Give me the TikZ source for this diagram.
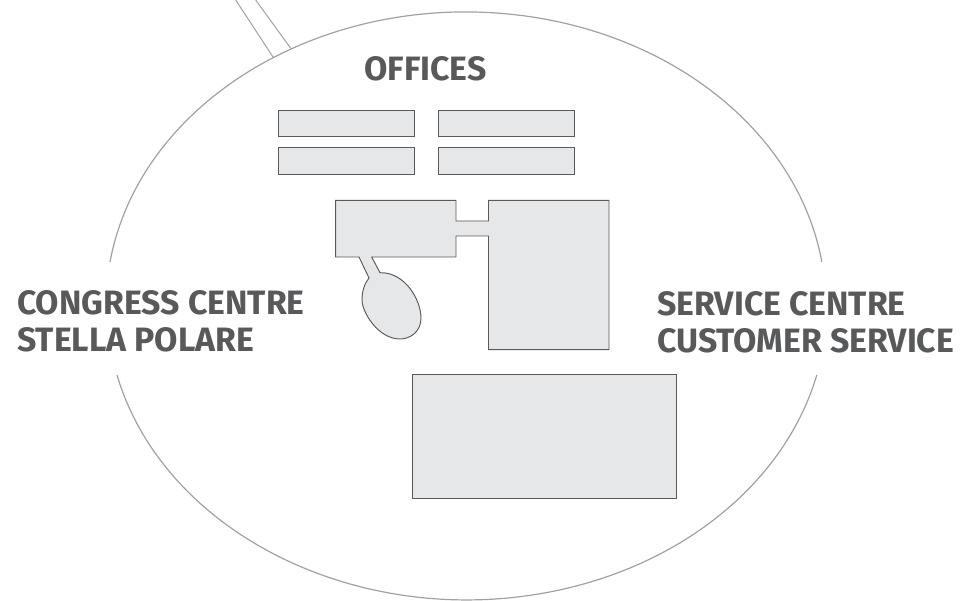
\documentclass[tikz,border=0pt]{standalone}
\usepackage{fontspec}
\setmainfont{Fira Sans}
\usepackage{xcolor}
\definecolor{roomfill}{HTML}{E6E7E8}
\definecolor{darkline}{HTML}{58595B}
\definecolor{ringline}{HTML}{A0A1A3}
\tikzset{
  room/.style={draw=darkline, fill=roomfill, line width=0.95pt, line join=miter},
  ring/.style={draw=ringline, line width=1.2pt},
  area/.style={anchor=base west, inner sep=0pt, text=darkline, font=\fontsize{33.8}{33.8}\selectfont\bfseries}
}
\begin{document}
\begin{tikzpicture}[x=1pt, y=1pt]
\useasboundingbox (0,0) rectangle (979,600);
% site outline
\draw[ring] (110,338) arc[start angle=171.4, end angle=8.6, x radius=360, y radius=294];
\draw[ring] (117,225) arc[start angle=193.6, end angle=346.4, x radius=360, y radius=294];
% access road
\coordinate (roadA) at (235.7,600);
\coordinate (roadB) at (273,543);
\coordinate (roadC) at (255.7,600);
\coordinate (roadD) at (290.7,551.7);
\draw[draw=ringline, line width=1pt] (roadA) -- (roadB);
\draw[draw=ringline, line width=1pt] (roadC) -- (roadD);
% offices
\foreach \xa/\xb in {278/414.3, 438/574} {
  \draw[room] (\xa,490) rectangle (\xb,463.3);
  \draw[room] (\xa,452.7) rectangle (\xb,426);
}
% main building
\draw[room] (335.7,399.7) -- (456,399.7) -- (456,379) -- (488.5,379) -- (488.5,399.7)
  -- (609,399.7) -- (609,250.3) -- (488.5,250.3) -- (488.5,364) -- (456,364) -- (456,343)
  -- (371.7,343) -- (380,327.3)
  .. controls (405,328) and (421,300) .. (421,282)
  .. controls (421,268) and (410,261) .. (400,261)
  .. controls (378,261) and (362,288) .. (362,300)
  .. controls (362,310) and (365,317) .. (369,322)
  -- (359,343) -- (335.7,343) -- cycle;
\draw[room] (412,226) rectangle (676,102);
% labels
\node[area] (offices) at (364,519) {OFFICES};
\node[area] (congress) at (17,285.5) {CONGRESS CENTRE};
\node[area] (stella) at (17,248.5) {STELLA POLARE};
\node[area] (service) at (657,284.5) {SERVICE CENTRE};
\node[area] (customer) at (657,247.5) {CUSTOMER SERVICE};
\end{tikzpicture}
\end{document}
